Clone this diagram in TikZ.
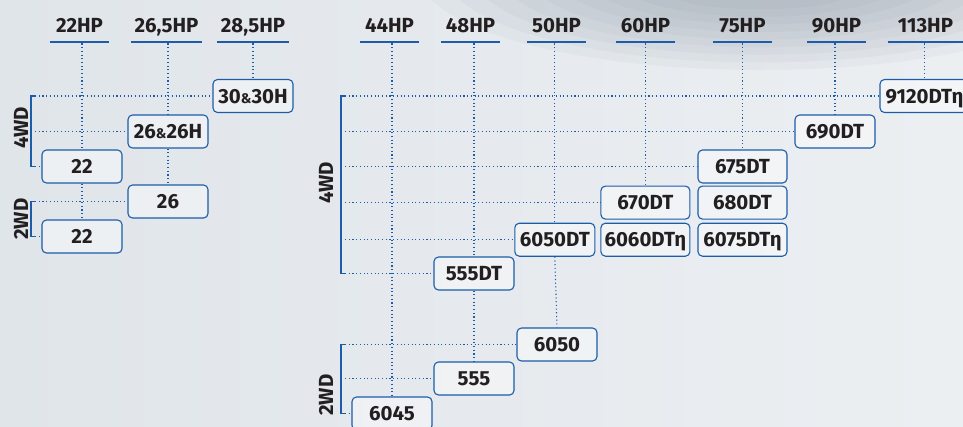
\documentclass[tikz,border=0pt]{standalone}
\usepackage{fontspec}
\setmainfont{Fira Sans}
\usetikzlibrary{positioning}
\definecolor{hpblue}{RGB}{28,92,168}
\definecolor{hptext}{RGB}{35,31,32}
\definecolor{bgl}{RGB}{224,229,234}
\definecolor{bgr}{RGB}{236,239,242}
\definecolor{cloud}{RGB}{120,134,150}
\begin{document}
\begin{tikzpicture}[x=1bp,y=-1bp,
    mbox/.style={draw=hpblue,line width=1.1bp,rounded corners=4.5bp,fill=white,
      fill opacity=0.4,text opacity=1,minimum width=80bp,minimum height=33bp,
      inner sep=0pt,text height=14bp,text depth=0pt,text=hptext,
      font=\bfseries\fontsize{20.5}{22}\selectfont},
    wbox/.style={mbox,minimum width=89bp},
    hp/.style={text=hptext,font=\bfseries\fontsize{20.5}{22}\selectfont},
    hpbar/.style={fill=hpblue,minimum height=2.4bp,inner sep=0pt},
    dot/.style={hpblue,line width=1.1bp,dash pattern=on 1.1bp off 2.6bp},
    brace/.style={hpblue,line width=1.6bp},
    wd/.style={hp,rotate=90}]
 \useasboundingbox (0,0) rectangle (963,426);
 \clip (0,0) rectangle (963,426);
 \shade[left color=bgl,right color=bgr] (0,0) rectangle (963,426);
 \foreach \s in {1,0.92,...,0.3}
  \fill[cloud,opacity=0.06] (760,-25) ellipse [x radius=340*\s,y radius=95*\s];
 % horsepower heads
 \foreach \t/\x/\w [count=\i] in {22HP/79.5/59,{26,5HP}/166.5/71,{28,5HP}/253/72,
   44HP/389.5/59,48HP/470.5/59,50HP/556.5/59,60HP/645.5/59,75HP/742.5/59,
   90HP/836.5/59,113HP/925.5/75} {
  \node[hp,anchor=base] (h\i) at (\x,32.5) {\t};
  \node[hpbar,minimum width=\w bp] (b\i) at (\x,42) {};
 }
 % tractors, left group
 \node[mbox] (k30) at (253,96) {30{\fontsize{14}{14}\selectfont\&}30H};
 \node[mbox] (k26h) at (168,131.5) {26{\fontsize{14}{14}\selectfont\&}26H};
 \node[mbox] (k22f) at (82,166.5) {22};
 \node[mbox] (k26) at (168,201.5) {26};
 \node[mbox] (k22r) at (82,236.5) {22};
 % tractors, right group
 \node[wbox] (k9120) at (924.5,96) {9120DTη};
 \node[mbox] (k690) at (835,131.5) {690DT};
 \node[wbox] (k675) at (742.5,166.5) {675DT};
 \node[wbox,below=2bp of k675] (k680) {680DT};
 \node[wbox,below=3bp of k680] (k6075) {6075DTη};
 \node[wbox,left=7bp of k680] (k670) {670DT};
 \node[wbox,below=3bp of k670] (k6060) {6060DTη};
 \node[mbox,left=5bp of k6060] (k6050dt) {6050DT};
 \node[mbox] (k555dt) at (474,273.5) {555DT};
 \node[mbox] (k6050) at (557,344.5) {6050};
 \node[mbox] (k555) at (474,378.5) {555};
 \node[mbox] (k6045) at (392,413.5) {6045};
 % drive labels and brackets
 \node[wd] (w4l) at (21,128) {4WD};
 \node[wd] (w2l) at (21,219) {2WD};
 \node[wd] (w4r) at (326,183) {4WD};
 \node[wd] (w2r) at (326,395) {2WD};
 \coordinate (lq) at (31,0); \coordinate (lt) at (35,0);
 \coordinate (rq) at (341,0); \coordinate (rt) at (345,0);
 \draw[brace] (k30.west -| lt) -| (k22f.west -| lq) -- (k22f.west -| lt);
 \draw[brace] (k26.west -| lt) -| (k22r.west -| lq) -- (k22r.west -| lt);
 \draw[brace] (k9120.west -| rt) -| (k555dt.west -| rq) -- (k555dt.west -| rt);
 \draw[brace] (k6050.west -| rt) -| (k6045.west -| rq) -- (k6045.west -| rt);
 \foreach \k in {k30,k26h,k22f,k26,k22r}
  \draw[dot] (\k.west -| lt) -- (\k.west);
 \foreach \k in {k9120,k690,k675,k670,k6050dt,k555dt,k6050,k555,k6045}
  \draw[dot] (\k.west -| rt) -- (\k.west);
 % columns
 \foreach \b/\k in {b1/k22f,b2/k26h,b3/k30,b4/k6045,b5/k555dt,b6/k6050dt,
   b7/k670,b8/k675,b9/k690,b10/k9120}
  \draw[dot] (\b.south -| \k) -- (\k.north);
 \foreach \a/\k in {k22f/k22r,k26h/k26,k555dt/k555,k6050dt/k6050}
  \draw[dot] (\a.south) -- (\k.north);
\end{tikzpicture}
\end{document}
